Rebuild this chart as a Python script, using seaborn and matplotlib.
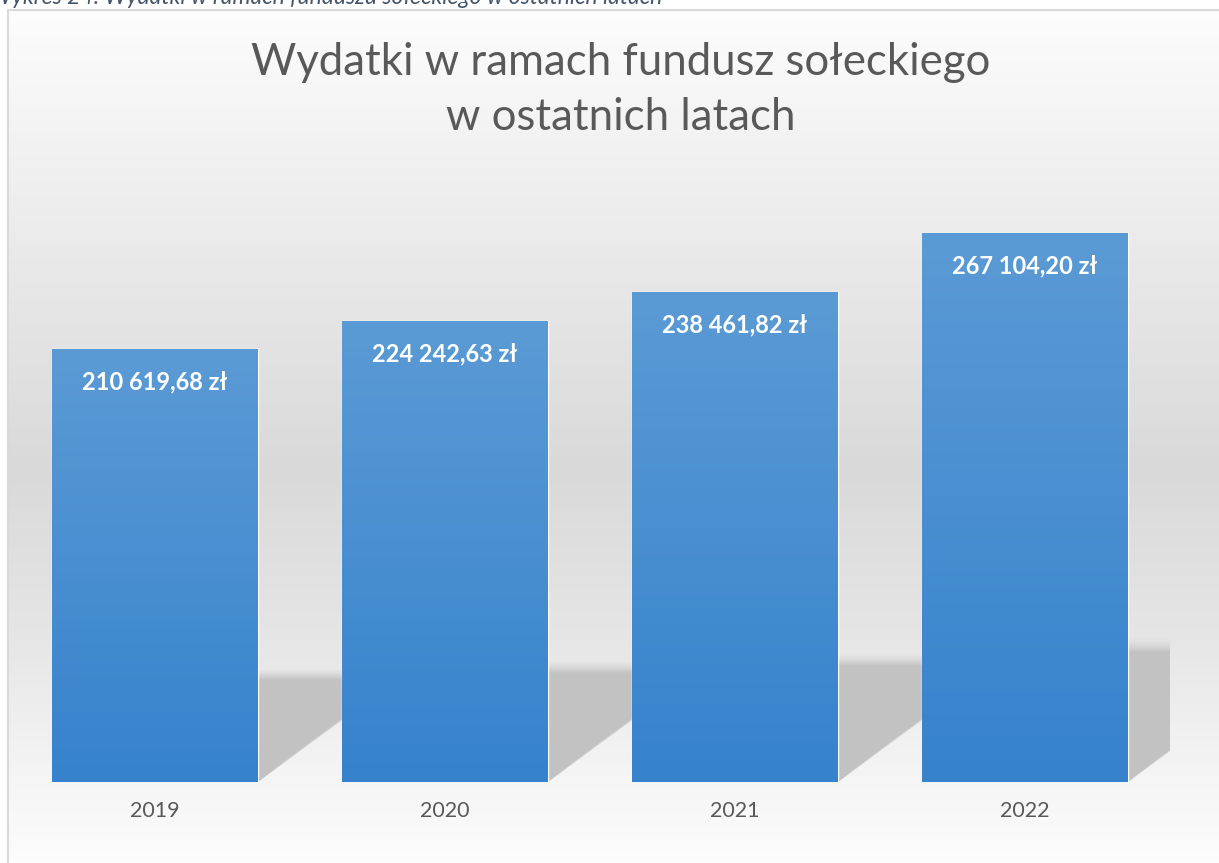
import numpy as np
import pandas as pd
import matplotlib.pyplot as plt
import seaborn as sns
from matplotlib.colors import LinearSegmentedColormap
from matplotlib.patches import Polygon, Rectangle

# chart data
years = ['2019', '2020', '2021', '2022']
values = [210619.68, 224242.63, 238461.82, 267104.20]
value_labels = ['210 619,68 zł', '224 242,63 zł', '238 461,82 zł', '267 104,20 zł']

title = 'Wydatki w ramach fundusz sołeckiego\nw ostatnich latach'
caption = 'Wykres 24: Wydatki w ramach funduszu sołeckiego w ostatnich latach'

W, H = 1219, 863
DPI = 100

sns.set_style('white')
plt.rcParams['font.family'] = ['Lato', 'DejaVu Sans']

fig = plt.figure(figsize=(W / DPI, H / DPI), dpi=DPI)
fig.patch.set_facecolor('white')

# chart frame with vertical grey gradient
frame_l, frame_t = 8, 10
bg = fig.add_axes([frame_l / W, 0, 1 - frame_l / W, 1 - frame_t / H], zorder=0)
bg_cmap = LinearSegmentedColormap.from_list('bg', [
    (0.0, '#fdfdfd'), (0.17, '#f1f1f1'), (0.54, '#d9d9d9'),
    (0.74, '#e6e6e6'), (0.90, '#f5f5f5'), (1.0, '#fcfcfc')])
grad = np.linspace(0, 1, 256).reshape(-1, 1)
bg.imshow(grad, aspect='auto', cmap=bg_cmap, extent=[0, 1, 1, 0])
bg.set_xlim(0, 1)
bg.set_ylim(1, 0)
bg.axis('off')
fig.add_artist(Rectangle((frame_l / W, -0.01), 1.1, 1 - frame_t / H + 0.01,
                         transform=fig.transFigure, fill=False,
                         edgecolor='#d9d9d9', linewidth=1.5, zorder=1))

# caption, cut off at the top edge as in the source page
fig.text(-10 / W, 1 - 4 / H, caption, ha='left', va='baseline', fontsize=16.5,
         style='italic', color='#44546a')

# plot area
ax_l, ax_r, ax_b, ax_t = 10, 1170, 782, 165
ax = fig.add_axes([ax_l / W, 1 - ax_b / H, (ax_r - ax_l) / W, (ax_b - ax_t) / H], zorder=2)
ax.patch.set_alpha(0)

df = pd.DataFrame({'Rok': years, 'Kwota': values})
sns.barplot(data=df, x='Rok', y='Kwota', color='#5b9bd5', width=0.71,
            saturation=1, ax=ax, zorder=3)
ax.set_ylim(0, 300000)
ax.set_xlim(-0.5, len(years) - 0.5)

# pixel scale for the shadows
px_per_unit = (ax_b - ax_t) / 300000
px_per_cat = (ax_r - ax_l) / len(years)

for i, v in enumerate(values):
    bar = ax.patches[i]
    xl, xr = bar.get_x(), bar.get_x() + bar.get_width()
    hs = 0.235 * v
    dx = (hs * px_per_unit / 0.72) / px_per_cat
    # soft top fringe, then the solid shadow
    for k in range(6):
        top = hs * (1 + 0.018 * (6 - k))
        col = plt.cm.Greys(0.22 + 0.035 * k)
        poly = Polygon([(xl, 0), (xr, 0), (xr + dx, top), (xl + dx, top)],
                       closed=True, facecolor=col, edgecolor='none', alpha=0.35, zorder=1)
        ax.add_patch(poly)
    # blurred lower edge: shift the slanted side a little further each step
    for k in range(5):
        shift = 0.012 * (5 - k)
        ax.add_patch(Polygon([(xl, 0), (xr - shift, 0), (xr + dx - shift, hs),
                              (xl + dx, hs)], closed=True, facecolor='#c2c2c2',
                             edgecolor='none', alpha=0.3 + 0.14 * k, zorder=1))

# gradient fill on the bars
bar_cmap = LinearSegmentedColormap.from_list('bar', ['#5b9bd5', '#3682cd'])
for bar in ax.patches[:len(values)]:
    x0, w, h = bar.get_x(), bar.get_width(), bar.get_height()
    im = ax.imshow(grad, aspect='auto', cmap=bar_cmap,
                   extent=[x0, x0 + w, 0, h], origin='upper', zorder=4)
    im.set_clip_path(bar)
ax.set_xlim(-0.5, len(years) - 0.5)
ax.set_ylim(0, 300000)

for i, v in enumerate(values):
    ax.annotate(value_labels[i], (i, v), xytext=(0, -24), textcoords='offset points',
                ha='center', va='center', color='white', fontsize=17,
                fontweight='bold', zorder=5)

ax.set_xlabel('')
ax.set_ylabel('')
ax.set_yticks([])
ax.tick_params(axis='x', length=0, pad=14, labelsize=15.5, labelcolor='#595959')
sns.despine(ax=ax, left=True, bottom=True)

fig.text(621 / W, 1 - 90 / H, title, ha='center', va='center', fontsize=31.5,
         color='#595959', linespacing=1.45, zorder=3)

fig.savefig('out.png', dpi=DPI)
